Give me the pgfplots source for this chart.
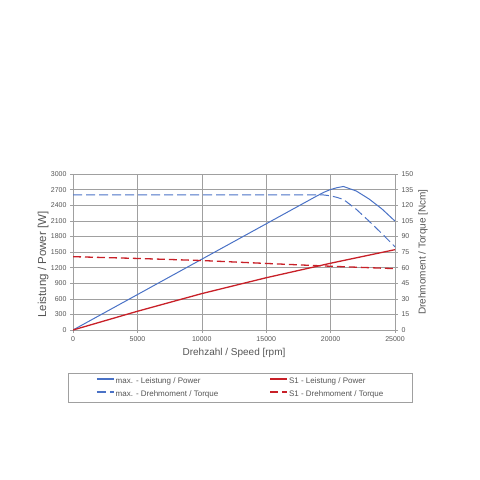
\documentclass[border=0pt]{standalone}
\usepackage{fontspec}
\setmainfont{Liberation Sans}
\usepackage{pgfplots}
\pgfplotsset{compat=1.18}

\definecolor{maxblue}{RGB}{74,114,198}
\definecolor{sred}{RGB}{200,32,40}
\definecolor{txtgray}{RGB}{85,85,85}
\definecolor{gridgray}{RGB}{160,160,160}

% speed [rpm] vs power [W]
\def\maxpower{(0,0) (19000,2587) (19500,2651) (20000,2702) (20500,2737) (21000,2760) (22000,2672) (23000,2517) (24000,2325) (25000,2094)}
\def\sonepower{(0,0) (5000,360) (10000,700) (15000,1005) (20000,1284) (25000,1545)}
% speed [rpm] vs torque [Ncm]
\def\maxtorque{(0,130) (19000,130) (19500,129.8) (20000,129) (20500,127.5) (21000,125.5) (22000,116) (23000,104.5) (24000,92.5) (25000,80)}
\def\sonetorque{(0,70.5) (5000,68.8) (10000,66.8) (15000,64) (20000,61.3) (25000,59)}

\pgfplotsset{
  chartbase/.style={
    at={(73pt,150pt)}, anchor=south west,
    scale only axis, width=322pt, height=156pt,
    xmin=0, xmax=25000,
    scaled x ticks=false,
    /pgf/number format/assume math mode=true,
    /pgf/number format/set thousands separator={},
    tick label style={font=\fontsize{7}{8}\selectfont, text=txtgray},
    label style={font=\fontsize{10}{12}\selectfont, text=txtgray},
    axis line style={gridgray},
    tick style={gridgray, thin},
    tick align=outside,
    major tick length=3pt,
  },
  % power axis (0..3000 W) sits on the torque axis (0..150 Ncm): factor 20
  onpowerscale/.style={y filter/.expression={y/20}},
}

\begin{document}
\begin{tikzpicture}
\path[use as bounding box] (0,0) rectangle (480pt,480pt);

% left axis: power, grid
\begin{axis}[
  chartbase,
  axis x line*=bottom, axis y line*=left,
  ymin=0, ymax=3000, ytick={0,300,...,3000},
  xtick={0,5000,...,25000},
  grid=major, major grid style={gridgray, thin},
  xlabel={Drehzahl / Speed [rpm]},
  ylabel={Leistung / Power [W]},
  every axis x label/.append style={at={(axis description cs:0.5,-0.148)}, anchor=center},
  every axis y label/.append style={at={(axis description cs:-0.093,0.42)}, anchor=center, font=\fontsize{11.5}{13}\selectfont},
]
\end{axis}

% right axis: torque, all curves and the legend
\begin{axis}[
  chartbase,
  axis x line=none, axis y line*=right,
  ymin=0, ymax=150, ytick={0,15,...,150},
  ylabel={Drehmoment / Torque [Ncm]},
  every axis y label/.append style={at={(axis description cs:1.087,0.5)}, anchor=center, rotate=0},
  legend columns=2,
  legend style={
    at={(0.519,-0.276)}, anchor=north,
    draw=gridgray,
    font=\fontsize{8}{9}\selectfont, text=txtgray,
    inner xsep=28pt, inner ysep=3pt, row sep=3pt,
    nodes={inner sep=1pt, text height=6pt, text depth=2pt},
    /tikz/every even column/.append style={column sep=50pt},
  },
  legend cell align=left,
  legend image code/.code={\draw[#1, line width=1.8pt] (0pt,2.5pt) -- (17pt,2.5pt);},
]
\addplot[draw=maxblue, line width=1pt, onpowerscale] coordinates {\maxpower};
\addlegendentry{max. - Leistung / Power}
\addplot[draw=sred, line width=1.3pt, onpowerscale] coordinates {\sonepower};
\addlegendentry{S1 - Leistung / Power}
\addplot[draw=maxblue, line width=1pt, dash pattern=on 9pt off 4pt] coordinates {\maxtorque};
\addlegendentry{max. - Drehmoment / Torque}
\addplot[draw=sred, line width=1.3pt, dash pattern=on 8pt off 4pt] coordinates {\sonetorque};
\addlegendentry{S1 - Drehmoment / Torque}
\end{axis}
\end{tikzpicture}
\end{document}
